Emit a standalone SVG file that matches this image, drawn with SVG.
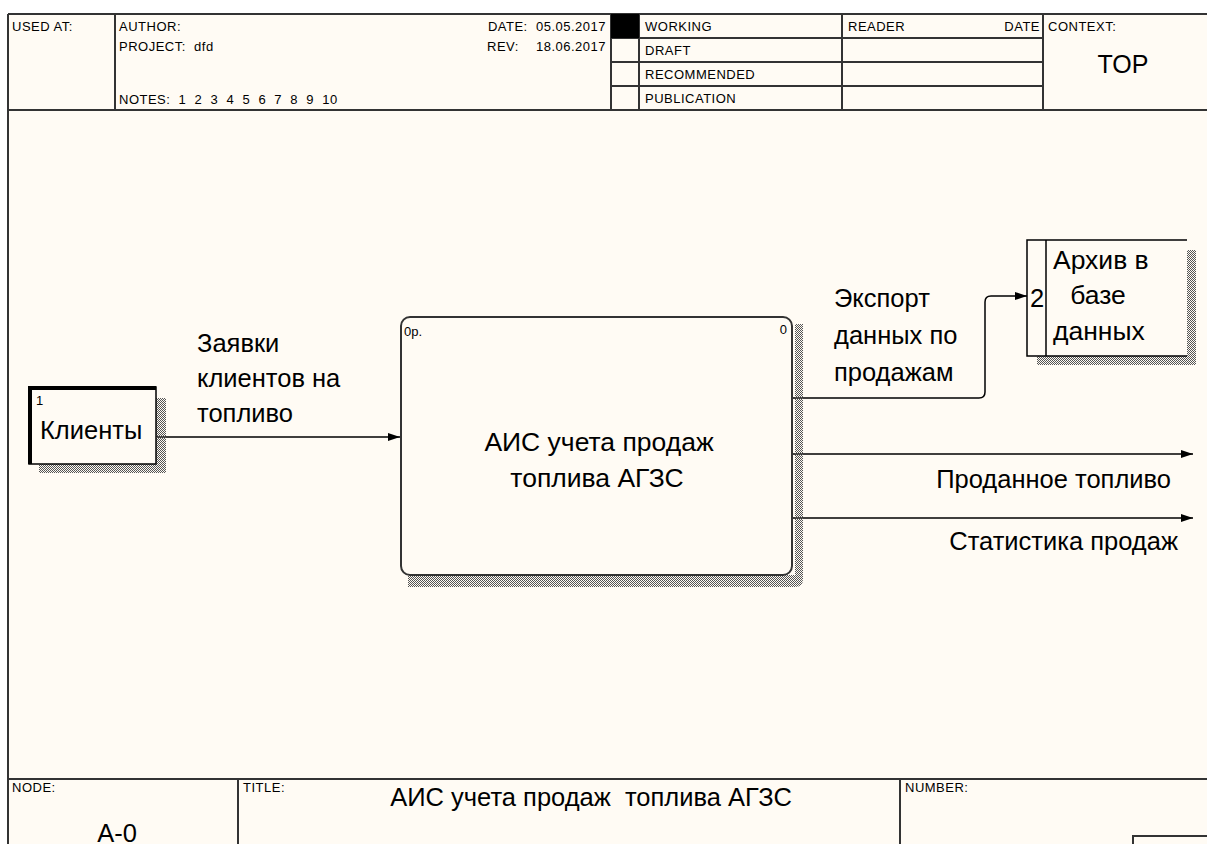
<svg xmlns="http://www.w3.org/2000/svg" width="1207" height="844" viewBox="0 0 1207 844">
<defs>
<style>
.t{font-family:"Liberation Sans",Arial,sans-serif;fill:#000;white-space:pre}
.s{font-size:13px;letter-spacing:0.5px}
.m{font-size:25.5px}
.b{font-size:26.5px}
.ln{stroke:#333;stroke-width:2;fill:none}
.c{stroke:#000;stroke-width:1.5;fill:none}
</style>
<pattern id="hatch" width="2" height="2" patternUnits="userSpaceOnUse">
<rect x="0" y="0" width="1" height="1" fill="#555"/>
<rect x="1" y="1" width="1" height="1" fill="#555"/>
</pattern>
<marker id="arr" markerWidth="12" markerHeight="8" refX="12" refY="4" orient="auto" markerUnits="userSpaceOnUse">
<path d="M0,0 L12,4 L0,8 z" fill="#000"/>
</marker>
</defs>
<rect x="0" y="0" width="1207" height="844" fill="#ffffff"/>
<rect x="8" y="14" width="1199" height="830" fill="#fffbf4"/>

<g id="header">
<line class="ln" x1="8" y1="14" x2="1207" y2="14"/>
<line class="ln" x1="8" y1="110" x2="1207" y2="110"/>
<line class="ln" x1="8" y1="14" x2="8" y2="844"/>
<line class="ln" x1="115" y1="14" x2="115" y2="110"/>
<line class="ln" x1="611" y1="14" x2="611" y2="110"/>
<line class="ln" x1="639" y1="14" x2="639" y2="110"/>
<line class="ln" x1="842" y1="14" x2="842" y2="110"/>
<line class="ln" x1="1043" y1="14" x2="1043" y2="110"/>
<line class="ln" x1="611" y1="38" x2="1043" y2="38"/>
<line class="ln" x1="611" y1="62" x2="1043" y2="62"/>
<line class="ln" x1="611" y1="86" x2="1043" y2="86"/>
<rect x="611" y="14" width="28" height="24" fill="#000"/>
<text class="t s" x="12" y="31">USED AT:</text>
<text class="t s" x="119" y="31">AUTHOR:</text>
<text class="t s" x="119" y="51">PROJECT:  dfd</text>
<text class="t s" x="119" y="104">NOTES:  1  2  3  4  5  6  7  8  9  10</text>
<text class="t s" x="606" y="31" text-anchor="end">DATE:  05.05.2017</text>
<text class="t s" x="487" y="51">REV:</text>
<text class="t s" x="606" y="51" text-anchor="end">18.06.2017</text>
<text class="t s" x="645" y="31">WORKING</text>
<text class="t s" x="645" y="55">DRAFT</text>
<text class="t s" x="645" y="79">RECOMMENDED</text>
<text class="t s" x="645" y="103">PUBLICATION</text>
<text class="t s" x="848" y="31">READER</text>
<text class="t s" x="1040" y="31" text-anchor="end">DATE</text>
<text class="t s" x="1048" y="31">CONTEXT:</text>
<text class="t" x="1123" y="73" font-size="25" text-anchor="middle">TOP</text>
</g>

<g id="footer">
<line class="ln" x1="8" y1="779" x2="1207" y2="779"/>
<line class="ln" x1="238" y1="779" x2="238" y2="844"/>
<line class="ln" x1="900" y1="779" x2="900" y2="844"/>
<path class="ln" d="M1133,844 V836 H1207"/>
<text class="t s" x="12" y="792">NODE:</text>
<text class="t s" x="243" y="792">TITLE:</text>
<text class="t s" x="905" y="792">NUMBER:</text>
<text class="t" x="591" y="806" font-size="25.5" text-anchor="middle">АИС учета продаж  топлива АГЗС</text>
<text class="t m" x="117" y="842" text-anchor="middle">A-0</text>
</g>

<g id="connectors">
<path class="c" d="M157,437 H400" marker-end="url(#arr)"/>
<path class="c" d="M793,398 H979 Q985,398 985,392 V302 Q985,296 991,296 H1027" marker-end="url(#arr)"/>
<path class="c" d="M793,454 H1193" marker-end="url(#arr)"/>
<path class="c" d="M793,518 H1193" marker-end="url(#arr)"/>
<text class="t m" x="197" y="352">Заявки</text>
<text class="t m" x="197" y="387">клиентов на</text>
<text class="t m" x="197" y="422">топливо</text>
<text class="t m" x="834" y="307">Экспорт</text>
<text class="t m" x="834" y="344">данных по</text>
<text class="t m" x="834" y="381">продажам</text>
<text class="t m" x="1171" y="488" text-anchor="end">Проданное топливо</text>
<text class="t m" x="1178" y="550" text-anchor="end">Статистика продаж</text>
</g>

<g id="node-clients">
<rect x="156" y="398" width="10" height="75" fill="url(#hatch)"/>
<rect x="39" y="464" width="127" height="9" fill="url(#hatch)"/>
<rect x="29" y="387" width="127" height="77" fill="#fffbf4" stroke="#000" stroke-width="1.5"/>
<path d="M30,464 V388 H156" fill="none" stroke="#000" stroke-width="4"/>
<text class="t" x="36" y="405" font-size="13">1</text>
<text class="t m" x="40" y="439">Клиенты</text>
</g>

<g id="node-main">
<path d="M408,575 H795 V324 H803 V579 Q803,587 795,587 H408 z" fill="url(#hatch)"/>
<rect x="401" y="317" width="391" height="258" rx="9" ry="9" fill="#fffbf4" stroke="#333" stroke-width="2"/>
<text class="t" x="404" y="336" font-size="13">0р.</text>
<text class="t" x="787" y="334" font-size="13" text-anchor="end">0</text>
<text class="t b" x="599" y="451" text-anchor="middle">АИС учета продаж</text>
<text class="t b" x="597" y="487" text-anchor="middle">топлива АГЗС</text>
</g>

<g id="node-archive">
<rect x="1186" y="250" width="10" height="115" fill="url(#hatch)"/>
<rect x="1037" y="356" width="159" height="9" fill="url(#hatch)"/>
<rect x="1027" y="240" width="160" height="116" fill="#fffbf4"/>
<path d="M1187,240 H1027 V356 H1187" fill="none" stroke="#000" stroke-width="1.5"/>
<line x1="1046" y1="240" x2="1046" y2="356" stroke="#000" stroke-width="1.5"/>
<text class="t m" x="1030" y="307">2</text>
<text class="t b" x="1053" y="269">Архив в</text>
<text class="t b" x="1098" y="304" text-anchor="middle">базе</text>
<text class="t b" x="1053" y="340">данных</text>
</g>
</svg>
